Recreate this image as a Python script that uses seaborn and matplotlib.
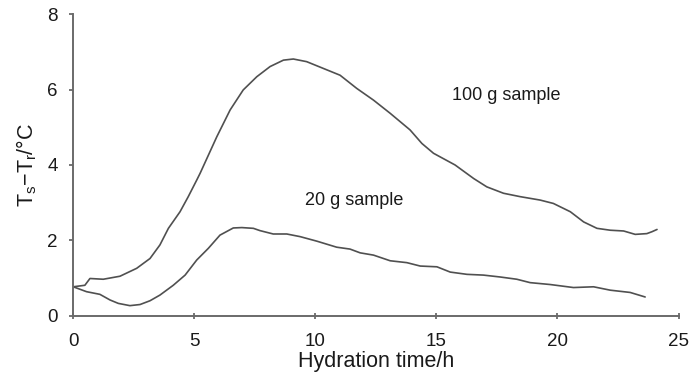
import numpy as np
import pandas as pd
import matplotlib
matplotlib.use("Agg")
import matplotlib.pyplot as plt
import seaborn as sns

# === Data ===
t_100g = [0, 0.48, 0.69, 1.24, 1.93, 2.62, 3.17, 3.58, 3.93, 4.41, 4.75, 5.10,
          5.24, 5.93, 6.48, 7.02, 7.58, 8.13, 8.68, 9.09, 9.64, 10.33, 11.02,
          11.71, 12.40, 13.09, 13.91, 14.40, 14.88, 15.77, 16.54, 17.08, 17.77,
          18.46, 19.28, 19.83, 20.53, 21.08, 21.63, 22.18, 22.73, 23.21, 23.69,
          23.90, 24.11]
dT_100g = [0.77, 0.81, 0.99, 0.97, 1.05, 1.26, 1.52, 1.88, 2.32, 2.76, 3.16, 3.60,
           3.78, 4.75, 5.46, 5.99, 6.34, 6.61, 6.78, 6.81, 6.74, 6.56, 6.38,
           6.03, 5.72, 5.37, 4.93, 4.57, 4.31, 4.00, 3.64, 3.42, 3.25,
           3.16, 3.07, 2.98, 2.76, 2.49, 2.32, 2.27, 2.25, 2.16, 2.18,
           2.23, 2.29]

t_20g = [0, 0.55, 1.10, 1.52, 1.86, 2.34, 2.76, 3.17, 3.58, 4.13, 4.62, 5.10,
         5.58, 6.06, 6.61, 6.96, 7.44, 7.71, 8.26, 8.82, 9.37, 10.06, 10.88,
         11.43, 11.85, 12.40, 13.09, 13.78, 14.33, 15.02, 15.57, 16.26, 16.94,
         17.63, 18.32, 18.87, 19.70, 20.66, 21.49, 22.18, 23.00, 23.62]
dT_20g = [0.77, 0.64, 0.57, 0.42, 0.33, 0.27, 0.30, 0.40, 0.55, 0.81, 1.08, 1.48,
          1.79, 2.14, 2.33, 2.34, 2.32, 2.26, 2.17, 2.17, 2.10, 1.98, 1.82,
          1.77, 1.67, 1.61, 1.46, 1.41, 1.32, 1.30, 1.16, 1.10, 1.08,
          1.03, 0.97, 0.88, 0.83, 0.75, 0.77, 0.68, 0.62, 0.50]

x_ticks = [0, 5, 10, 15, 20, 25]
y_ticks = [0, 2, 4, 6, 8]

# === Style ===
sns.set_theme(style="ticks")
plt.rcParams["font.family"] = ["Liberation Sans", "DejaVu Sans"]
plt.rcParams["mathtext.fontset"] = "custom"
plt.rcParams["mathtext.rm"] = "Liberation Sans"

line_col = "#505050"
axis_col = "#6a6a6a"
text_col = "#1a1a1a"

fig = plt.figure(figsize=(6.91, 3.72), dpi=100)
ax = fig.add_axes([0.106, 0.151, 0.876, 0.811])

df_big = pd.DataFrame({"t": t_100g, "dT": dT_100g})
df_small = pd.DataFrame({"t": t_20g, "dT": dT_20g})
sns.lineplot(data=df_big, x="t", y="dT", ax=ax, color=line_col, lw=1.2, estimator=None)
sns.lineplot(data=df_small, x="t", y="dT", ax=ax, color=line_col, lw=1.2, estimator=None)

ax.set_xlim(0, 25)
ax.set_ylim(0, 8)
ax.set_xticks(x_ticks)
ax.set_yticks(y_ticks)
ax.tick_params(axis="x", labelsize=13.5, direction="inout", length=4.5, width=1.3,
               color=axis_col, labelcolor=text_col, pad=10)
ax.tick_params(axis="y", labelsize=13.5, direction="out", length=3, width=1.3,
               color=axis_col, labelcolor=text_col, pad=8)
sns.despine(ax=ax)
for s in ["left", "bottom"]:
    ax.spines[s].set_color(axis_col)
    ax.spines[s].set_linewidth(1.4)

ax.set_xlabel("Hydration time/h", fontsize=15.5, color=text_col, labelpad=1)
ax.set_ylabel(r"T$_\mathregular{s}$$-$T$_\mathregular{r}$/°C", fontsize=15.5, color=text_col, labelpad=6)

ax.text(15.64, 5.85, "100 g sample", fontsize=13, color=text_col, va="center", ha="left")
ax.text(9.57, 3.07, "20 g sample", fontsize=13, color=text_col, va="center", ha="left")

fig.savefig("out.png", dpi=100)
